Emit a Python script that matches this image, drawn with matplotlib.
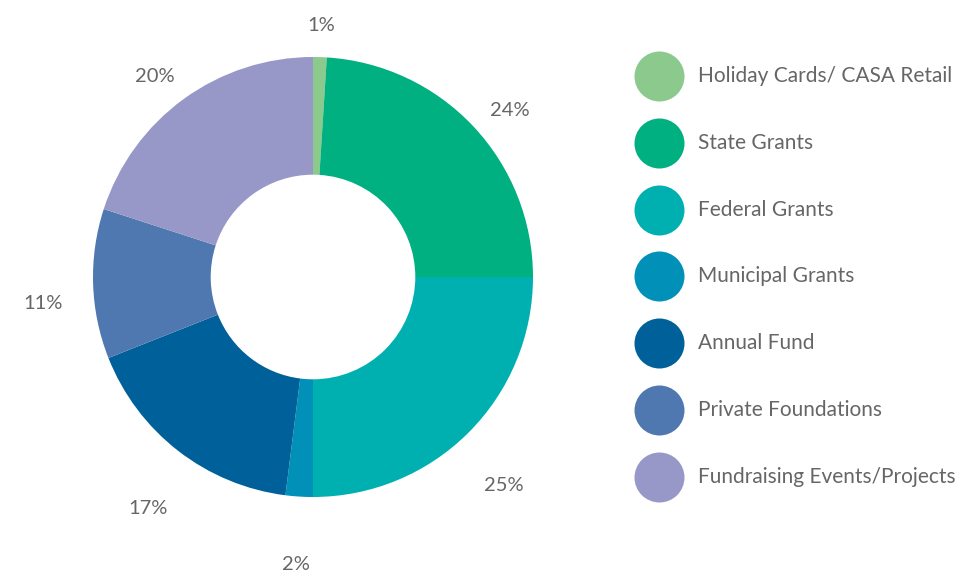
import matplotlib.pyplot as plt

categories = ["Holiday Cards/ CASA Retail", "State Grants", "Federal Grants",
              "Municipal Grants", "Annual Fund", "Private Foundations",
              "Fundraising Events/Projects"]
values = [1, 24, 25, 2, 17, 11, 20]
colors = ["#8BC98D", "#00B080", "#00B0B0", "#0090B8", "#00609A", "#5078B0", "#9898C8"]

W, H = 967, 575
fig = plt.figure(figsize=(W / 100, H / 100), dpi=100)
ax = fig.add_axes([0, 0, 1, 1])
ax.set_xlim(0, W)
ax.set_ylim(0, H)
ax.set_aspect("equal")
ax.axis("off")

cx, cy, R = 313, H - 277, 220
wedges, texts, autotexts = ax.pie(
    values, colors=colors, startangle=90, counterclock=False,
    center=(cx, cy), radius=R, frame=True,
    wedgeprops=dict(width=R * 0.535, linewidth=0),
    autopct=lambda p: f"{p:.0f}%", pctdistance=1.227,
    textprops=dict(color="#666666", fontsize=14.5, family="Lato"))
for t in autotexts:
    x, y = t.get_position()
    t.set_position((x, y - 18))
ax.set_xlim(0, W)
ax.set_ylim(0, H)
ax.axis("off")

# legend
lx, ly0, dy = 659, H - 76, 66.8
for i, (cat, col) in enumerate(zip(categories, colors)):
    y = ly0 - i * dy
    ax.scatter([lx], [y], s=1296, color=col, linewidths=0, zorder=3)
    ax.text(698, y, cat, ha="left", va="center", fontsize=15,
            color="#666666", family="Lato")

fig.savefig("out.png", dpi=100)
